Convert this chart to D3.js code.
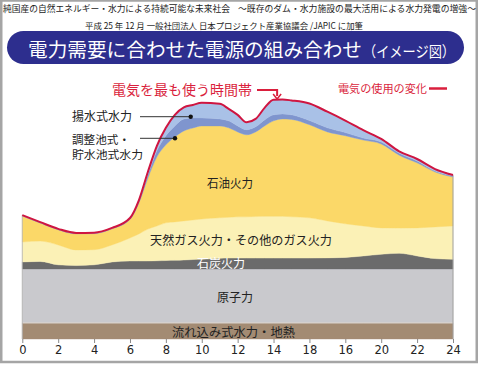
<!DOCTYPE html>
<html><head><meta charset="utf-8">
<script src="https://cdn.jsdelivr.net/npm/d3@7"></script>
<style>body{margin:0;background:#fff}svg{display:block}</style>
</head><body>
<svg id="chart" width="479" height="365"></svg>
<script>
const hours = [0,1,2,3,4,5,6,6.5,7,7.5,8,8.5,9,9.5,10,11,11.5,12,12.5,13,13.5,14,14.5,15,16,17,18,19,20,21,22,23,24];
const runOfRiver = hours.map(()=>6.7);
const nuclear = hours.map(()=>22.5);
const coal = [2.9,3.1,1.7,1.4,1.7,2.9,3.3,3.3,3.3,3.4,3.5,3.6,3.7,3.9,4.0,4.4,4.5,4.5,4.5,4.5,4.5,4.5,4.5,4.5,4.5,4.6,4.8,5.4,6.1,6.5,5.4,4.3,4.0];
const gas = [8.3,8.5,8.3,6.5,6.3,7.1,9.6,11.3,13.3,14.5,15.7,16.0,16.3,16.5,16.8,16.9,17.0,17.2,17.2,17.3,17.4,17.4,17.4,17.2,16.8,15.4,14.0,12.5,11.0,10.5,11.7,13.2,13.9];
const oil = [10.8,7.5,6.3,6.7,6.7,6.7,7.7,12.9,21.3,28.8,32.5,35.4,37.5,38.3,38.8,38.3,37.3,35.4,34.2,35.3,37.7,39.8,40.6,40.6,38.8,37.1,36.7,35.8,35.0,30.4,27.1,22.9,20.4];
const regulating = [0.2,0.2,0.2,0.2,0.2,0.2,0.4,0.8,1.3,2.5,3.8,4.6,5.0,4.2,3.3,2.9,2.9,2.5,2.1,2.1,2.5,2.5,2.1,1.9,1.7,1.7,1.3,0.8,0.8,0.8,0.8,0.4,0.4];
const pumped = [0.2,0.2,0.2,0.2,0.2,0.2,0.2,0.4,1.3,2.1,3.3,4.6,4.8,5.4,6.3,6.3,5.0,4.6,3.1,3.3,5.0,6.3,6.0,6.0,7.1,6.7,5.0,3.3,1.3,0.8,0.8,0.8,0.4];
const tickHours = [0,2,4,6,8,10,12,14,16,18,20,22,24];
const tickLabels = ["0","2","4","6","8","10","12","14","18","16","20","22","24"];

const layerKeys = ["runOfRiver","nuclear","coal","gas","oil","regulating","pumped"];
const layerColors = {runOfRiver:"#A38B73",nuclear:"#C9C9CD",coal:"#6B6B6B",gas:"#FBF1B6",oil:"#FBD868",regulating:"#7F95CE",pumped:"#A9C1E7"};
const series = {runOfRiver,nuclear,coal,gas,oil,regulating,pumped};
const rows = hours.map((h,i)=>{const r={hour:h};layerKeys.forEach(k=>r[k]=series[k][i]);return r;});

const svg = d3.select("#chart");
const JP = "'Noto Sans CJK JP','Noto Sans',sans-serif";

// frame
svg.append("rect").attr("x",1.25).attr("y",0.5).attr("width",475.5).attr("height",361.5)
  .attr("fill","#fff").attr("stroke","#a5a5a5").attr("stroke-width",2.5);

const x = d3.scaleLinear().domain([0,24]).range([22.3,453]);
const y = d3.scaleLinear().domain([0,100]).range([339,99]);

const stack = d3.stack().keys(layerKeys)(rows);
const area = d3.area().x(d=>x(d.data.hour)).y0(d=>y(d[0])).y1(d=>y(d[1])).curve(d3.curveMonotoneX);
svg.append("g").selectAll("path").data(stack).join("path")
  .attr("d",area).attr("fill",d=>layerColors[d.key]).attr("stroke",d=>layerColors[d.key]).attr("stroke-width",0.4);

// separator line between run-of-river and nuclear
svg.append("line").attr("x1",x(0)).attr("x2",x(24)).attr("y1",y(6.7)).attr("y2",y(6.7))
  .attr("stroke","#ddd5cc").attr("stroke-width",1);

const totals = rows.map(r=>({hour:r.hour,total:d3.sum(layerKeys,k=>r[k])}));
// side edges
svg.append("line").attr("x1",x(0)).attr("x2",x(0)).attr("y1",y(0)).attr("y2",y(totals[0].total)).attr("stroke","#b0b0b0").attr("stroke-width",0.8);
svg.append("line").attr("x1",x(24)).attr("x2",x(24)).attr("y1",y(0)).attr("y2",y(totals[totals.length-1].total)).attr("stroke","#a0a0a0").attr("stroke-width",1);

// demand line
svg.append("path").datum(totals)
  .attr("d",d3.line().x(d=>x(d.hour)).y(d=>y(d.total)).curve(d3.curveMonotoneX))
  .attr("fill","none").attr("stroke","#CF1540").attr("stroke-width",2);

// x axis
const ax = svg.append("g").attr("transform",`translate(0,${y(0)})`)
  .call(d3.axisBottom(x).tickValues(tickHours).tickFormat((d,i)=>tickLabels[i]).tickSize(4).tickPadding(3));
ax.select(".domain").remove();
ax.selectAll("line").attr("stroke","#888");
ax.selectAll("text").attr("font-family","'DejaVu Sans',Verdana,sans-serif").attr("font-size",11.5).attr("fill","#222");

// headers
svg.append("text").attr("x",3).attr("y",12).attr("font-family",JP).attr("font-size",8.7).attr("fill","#222")
  .attr("textLength",227).attr("lengthAdjust","spacingAndGlyphs").text("純国産の自然エネルギー・水力による持続可能な未来社会");
svg.append("text").attr("x",238).attr("y",12).attr("font-family",JP).attr("font-size",8.7).attr("fill","#222")
  .attr("textLength",238).attr("lengthAdjust","spacingAndGlyphs").text("～既存のダム・水力施設の最大活用による水力発電の増強～");
svg.append("text").attr("x",85).attr("y",29).attr("font-family",JP).attr("font-size",8.5).attr("fill","#222")
  .attr("textLength",278).attr("lengthAdjust","spacingAndGlyphs").text("平成 25 年 12 月 一般社団法人 日本プロジェクト産業協議会 /JAPIC に加筆");

// banner
svg.append("rect").attr("x",7).attr("y",31).attr("width",457).attr("height",33).attr("rx",16.5)
  .attr("fill","#2D2E8E");
const bt = svg.append("text").attr("x",28).attr("y",57).attr("font-family",JP).attr("fill","#fff");
bt.append("tspan").attr("font-size",19).attr("textLength",334).attr("lengthAdjust","spacingAndGlyphs").text("電力需要に合わせた電源の組み合わせ");
bt.append("tspan").attr("x",363).attr("font-size",15).attr("textLength",92).attr("lengthAdjust","spacingAndGlyphs").text("（イメージ図）");

// red annotations
const RED = "#DA1F3D";
svg.append("text").attr("x",112).attr("y",95).attr("font-family",JP).attr("font-size",14).attr("fill",RED)
  .attr("textLength",140).attr("lengthAdjust","spacingAndGlyphs").text("電気を最も使う時間帯");
svg.append("path").attr("d",`M257,90 H${x(14.2)} V96`).attr("fill","none").attr("stroke",RED).attr("stroke-width",2);
svg.append("path").attr("d",`M${x(14.2)-4},94 L${x(14.2)},99 L${x(14.2)+4},94`).attr("fill","none").attr("stroke",RED).attr("stroke-width",1.5);
svg.append("text").attr("x",338).attr("y",93).attr("font-family",JP).attr("font-size",11).attr("fill",RED)
  .attr("textLength",89).attr("lengthAdjust","spacingAndGlyphs").text("電気の使用の変化");
svg.append("line").attr("x1",429).attr("x2",447).attr("y1",88.5).attr("y2",88.5).attr("stroke",RED).attr("stroke-width",2.5);

// hydro labels with leaders
const lab = (t,xx,yy,w,fill,fs)=>svg.append("text").attr("x",xx).attr("y",yy).attr("font-family",JP).attr("font-size",fs||12)
  .attr("fill",fill||"#222").attr("textLength",w).attr("lengthAdjust","spacingAndGlyphs").text(t);
lab("揚水式水力",72,121,60);
lab("調整池式・",72,144,58,null,11.5);
lab("貯水池式水力",72,158.5,71,null,11.5);
svg.append("line").attr("x1",140).attr("x2",190.7).attr("y1",116.7).attr("y2",116.7).attr("stroke","#333").attr("stroke-width",1);
svg.append("circle").attr("cx",190.7).attr("cy",116.7).attr("r",2.2).attr("fill","#111");
svg.append("line").attr("x1",140).attr("x2",175).attr("y1",138.3).attr("y2",138.3).attr("stroke","#333").attr("stroke-width",1);
svg.append("circle").attr("cx",175).attr("cy",138.3).attr("r",2.2).attr("fill","#111");

// layer labels
lab("石油火力",207,188,46);
lab("天然ガス火力・その他のガス火力",150,245,182);
lab("石炭火力",197,268,48,"#fff");
lab("原子力",217,302,36);
lab("流れ込み式水力・地熱",172,337,123);
</script>
</body></html>
